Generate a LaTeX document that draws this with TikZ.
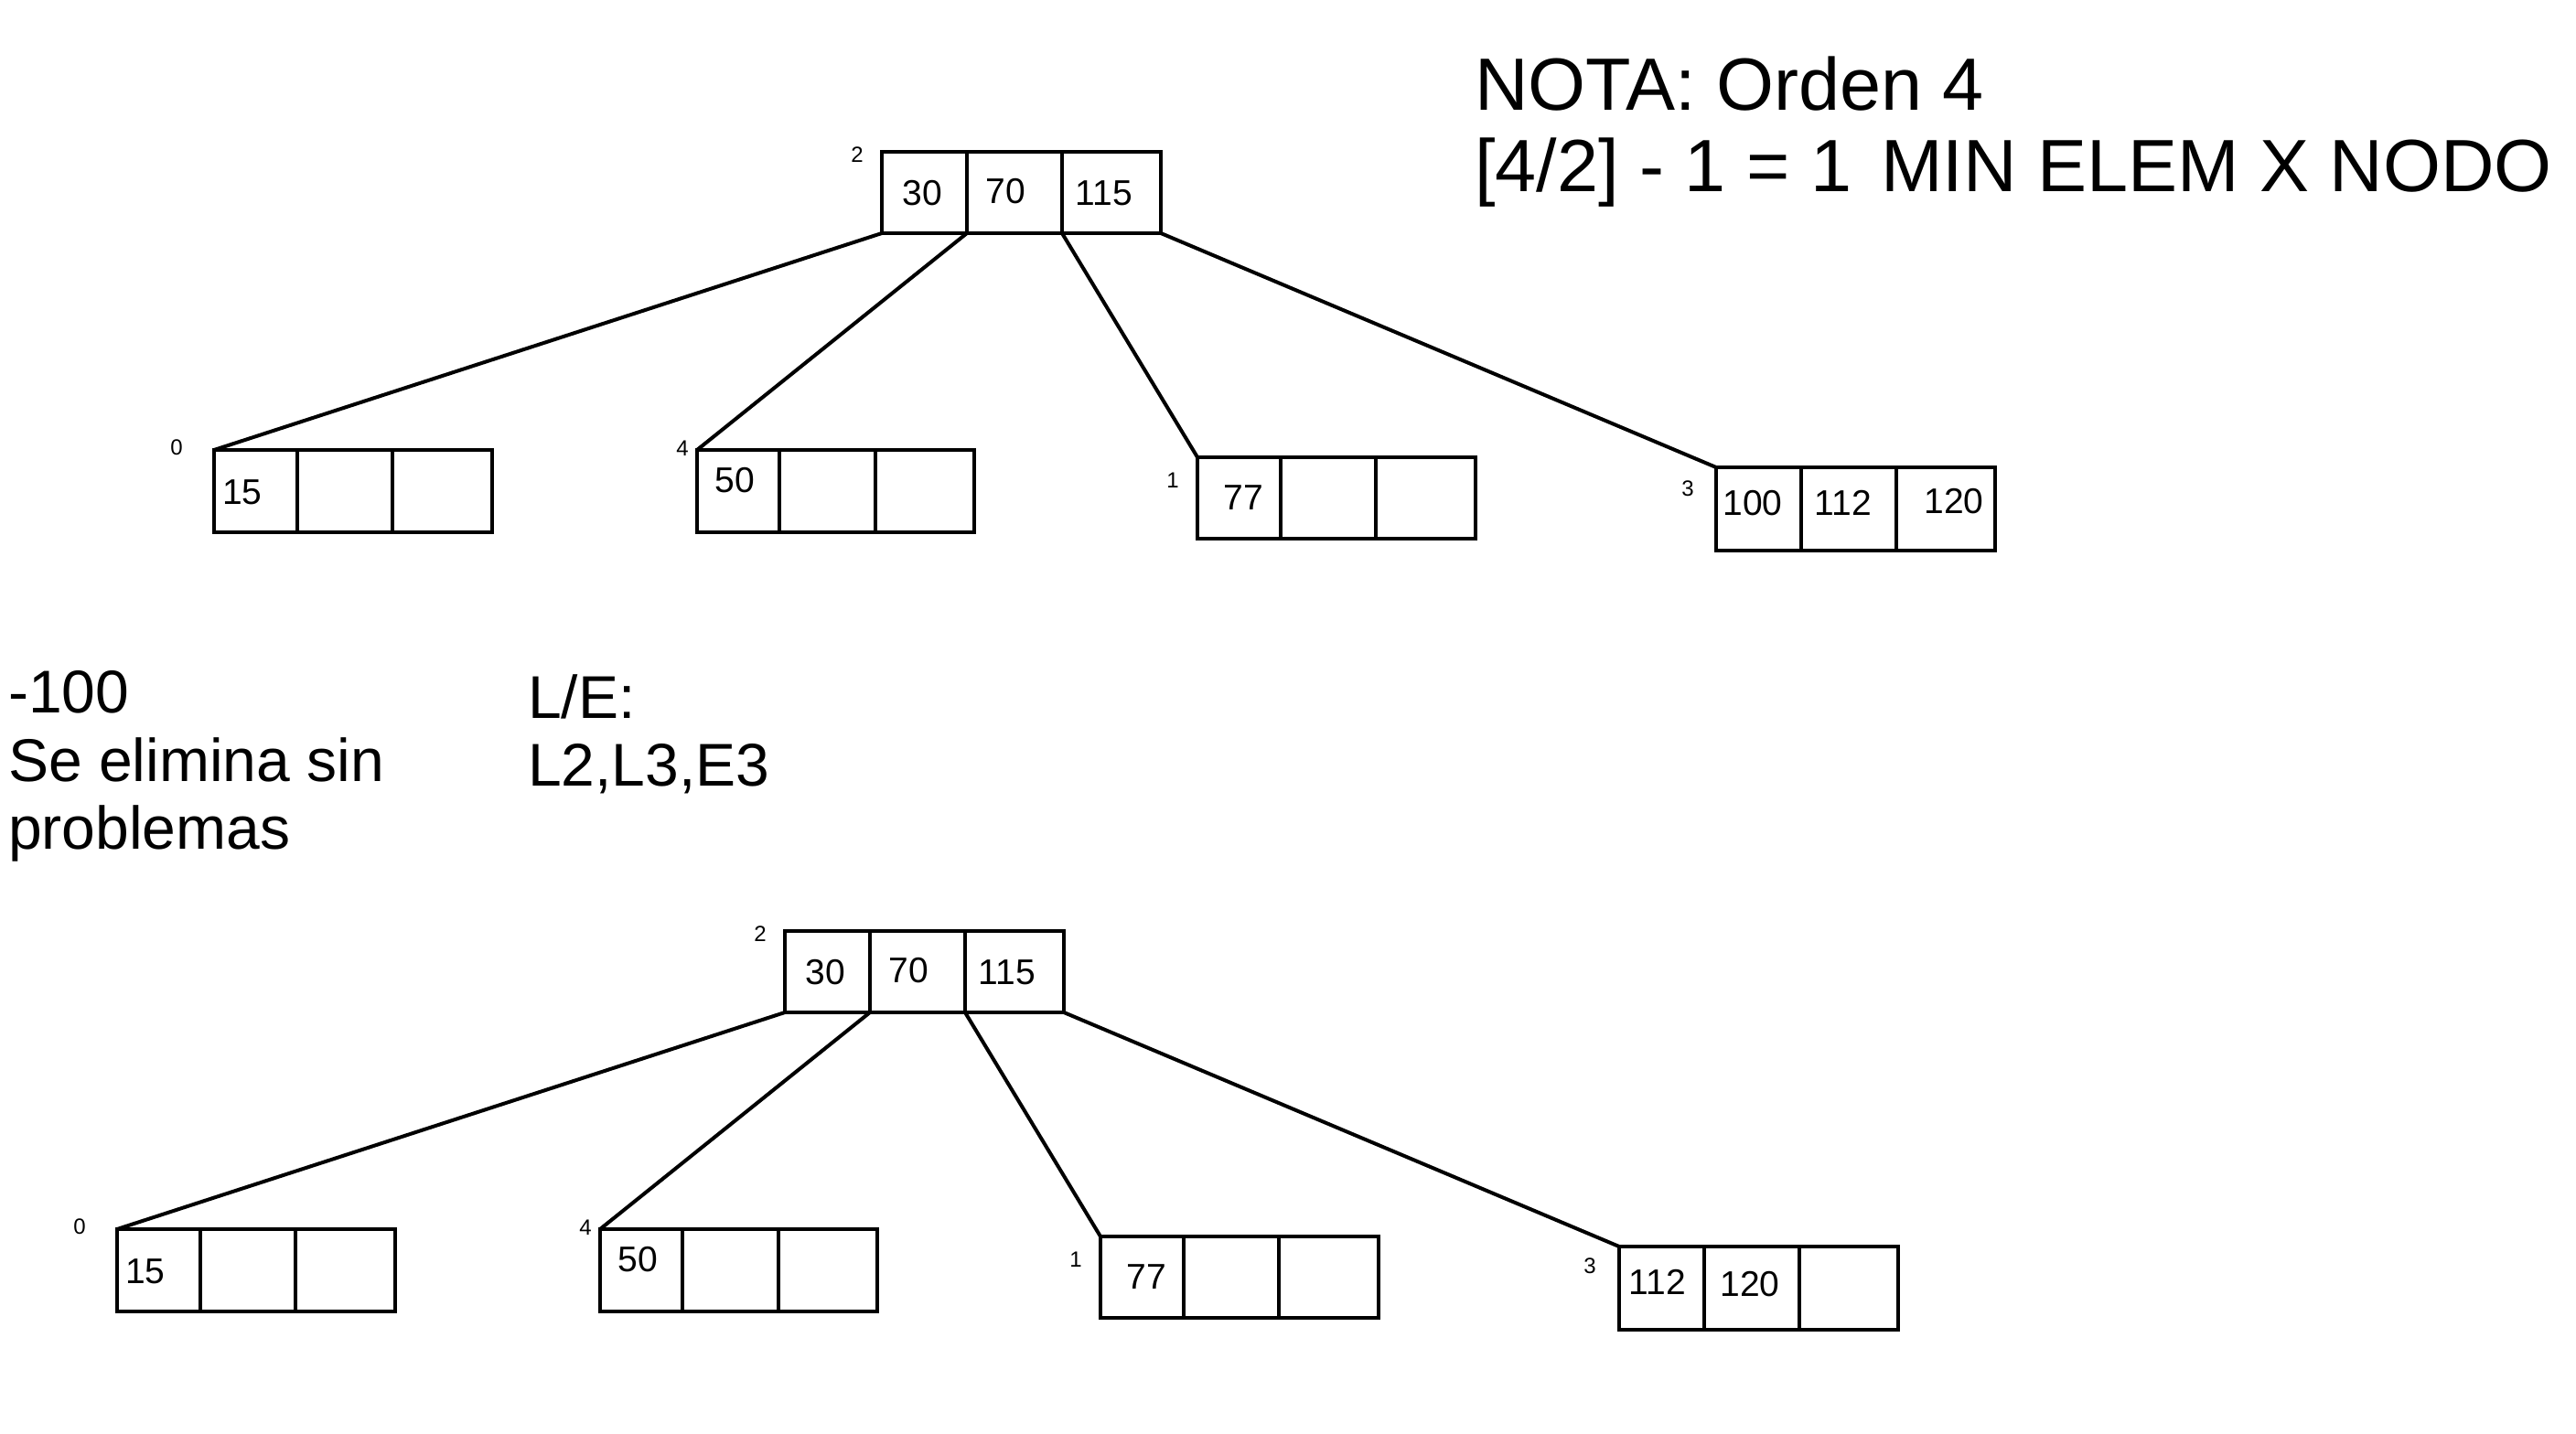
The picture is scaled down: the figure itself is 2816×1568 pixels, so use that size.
\documentclass[tikz,border=0pt]{standalone}
\usepackage{fontspec}
\setmainfont{Liberation Sans}
\newcommand{\threecells}[7]{%
  \node[cell, minimum width={(#3-#2)*1pt}, minimum height={(#7-#6)*1pt}] (#1a) at (#2,#6) {};
  \node[cell, minimum width={(#4-#3)*1pt}, minimum height={(#7-#6)*1pt}] (#1b) at (#3,#6) {};
  \node[cell, minimum width={(#5-#4)*1pt}, minimum height={(#7-#6)*1pt}] (#1c) at (#4,#6) {};
}
\begin{document}
\begin{tikzpicture}[x=1pt,y=-1pt,
  cell/.style={draw, line width=4.5pt, inner sep=0pt, outer sep=0pt, anchor=north west},
  num/.style={inner sep=0pt, anchor=base, font=\fontsize{39}{45}\selectfont},
  lbl/.style={inner sep=0pt, anchor=base, font=\fontsize{24}{28}\selectfont},
  note/.style={inner sep=0pt, anchor=base west, font=\fontsize{81}{90}\selectfont},
  side/.style={inner sep=0pt, anchor=base west, font=\fontsize{66}{75}\selectfont},
  link/.style={line width=4pt}]
\fill[white] (0,0) rectangle (2816,1568);
\useasboundingbox (0,0) rectangle (2816,1568);

% ---------- note ----------
\node[note] (n1) at (1612,121) {NOTA: Orden 4};
\node[note] (n2) at (1612,209) {[4/2] - 1 = 1\hspace{32pt}MIN ELEM X NODO};

% ---------- side texts ----------
\node[side] (s1) at (9,779) {-100};
\node[side] (s2) at (9,854) {Se elimina sin};
\node[side] (s3) at (9,928) {problemas};
\node[side] (le1) at (577,785) {L/E:};
\node[side] (le2) at (577,859) {L2,L3,E3};

% ---------- top tree ----------
\threecells{r}{964}{1057}{1161}{1269}{166}{255}
\threecells{p}{234}{325}{429}{538}{492}{582}
\threecells{q}{762}{852}{957}{1065}{492}{582}
\threecells{u}{1309}{1400}{1504}{1613}{500}{589}
\threecells{v}{1876}{1969}{2073}{2181}{511}{602}

\node[num] (rt1) at (1008,224) {30};
\node[num] (rt2) at (1099,222) {70};
\node[num] (rt3) at (1207,224) {115};
\node[lbl] (rl) at (937,177) {2};

\node[num] (pt1) at (265,551) {15};
\node[lbl] (pl) at (193,497) {0};
\node[num] (qt1) at (803,538) {50};
\node[lbl] (ql) at (746,498) {4};
\node[num] (ut1) at (1359,557) {77};
\node[lbl] (ul) at (1282,533) {1};
\node[num] (vt1) at (1916,563) {100};
\node[num] (vt2) at (2015,563) {112};
\node[num] (vt3) at (2136,561) {120};
\node[lbl] (vl) at (1845,542) {3};

\draw[link] (ra.south west) -- (pa.north west);
\draw[link] (ra.south east) -- (qa.north west);
\draw[link] (rb.south east) -- (ua.north west);
\draw[link] (rc.south east) -- (va.north west);

% ---------- bottom tree ----------
\begin{scope}[shift={(-106,852)}]
\threecells{br}{964}{1057}{1161}{1269}{166}{255}
\threecells{bp}{234}{325}{429}{538}{492}{582}
\threecells{bq}{762}{852}{957}{1065}{492}{582}
\threecells{bu}{1309}{1400}{1504}{1613}{500}{589}
\threecells{bv}{1876}{1969}{2073}{2181}{511}{602}

\node[num] (brt1) at (1008,224) {30};
\node[num] (brt2) at (1099,222) {70};
\node[num] (brt3) at (1207,224) {115};
\node[lbl] (brl) at (937,177) {2};

\node[num] (bpt1) at (265,551) {15};
\node[lbl] (bpl) at (193,497) {0};
\node[num] (bqt1) at (803,538) {50};
\node[lbl] (bql) at (746,498) {4};
\node[num] (but1) at (1359,557) {77};
\node[lbl] (bul) at (1282,533) {1};
\node[num] (bvt1) at (1918,563) {112};
\node[num] (bvt2) at (2019,565) {120};
\node[lbl] (bvl) at (1844,540) {3};

\draw[link] (bra.south west) -- (bpa.north west);
\draw[link] (bra.south east) -- (bqa.north west);
\draw[link] (brb.south east) -- (bua.north west);
\draw[link] (brc.south east) -- (bva.north west);
\end{scope}
\end{tikzpicture}
\end{document}
